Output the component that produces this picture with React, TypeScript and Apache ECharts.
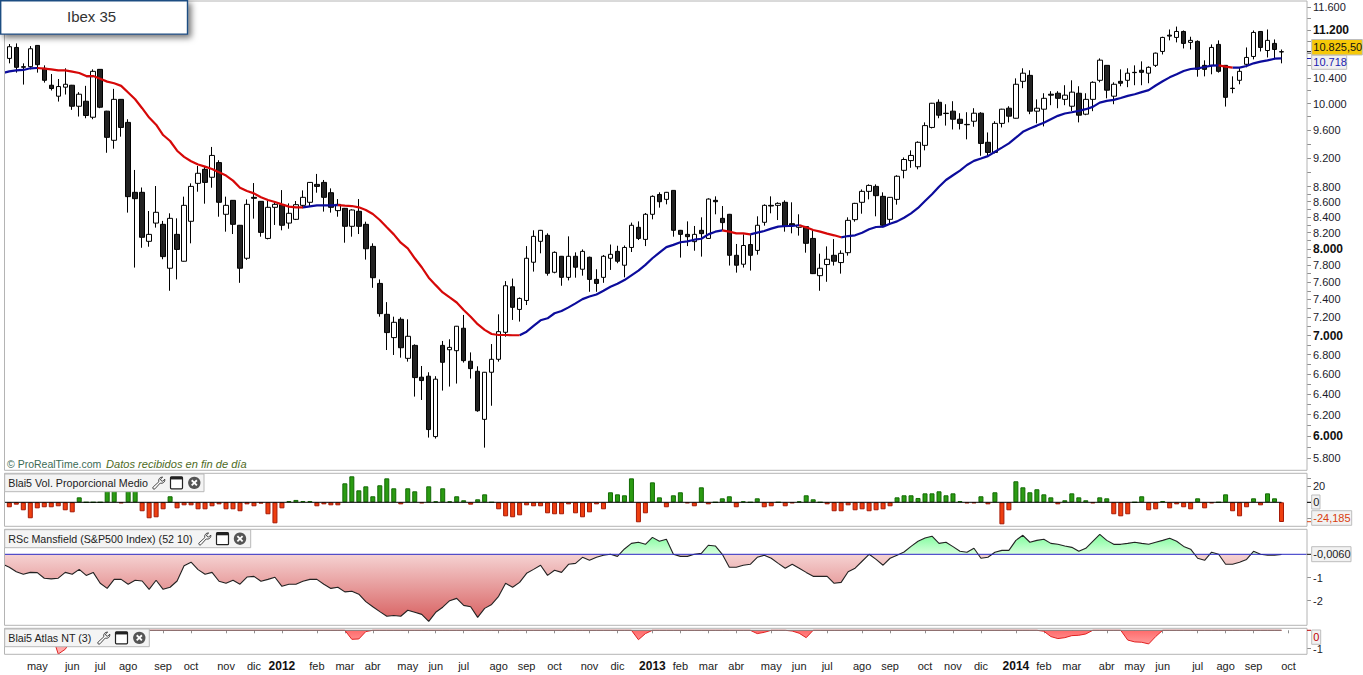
import React, { useEffect, useRef } from "react";
import * as echarts from "echarts";

const opens = [10719,10901,10573,10584,10935,10557,10286,10114,10255,10286,9959,10036,9792,10540,9884,9451,10065,9715,8725,8725,8092,8322,8306,7764,8179,7848,8345,8846,9039,8929,9133,8435,8618,8294,7884,8658,8605,8128,8526,8561,8322,8370,8552,8592,8832,8859,8720,8483,8513,8281,8474,8306,8029,7585,7233,6979,7178,6760,6896,6567,6577,5994,6896,6850,6840,7080,6730,6627,6155,6617,6750,7036,7546,7288,7389,7836,8092,8167,7716,7908,7656,7908,7752,7896,7632,7656,7884,7968,7800,8016,8268,8116,8435,8696,8631,8751,8230,8179,8088,8230,8128,8618,8383,8435,7920,7812,8052,7980,8332,8552,8552,8592,8314,8268,8277,8128,7676,7808,7920,7832,7952,8366,8592,8738,8805,8671,8370,8631,9025,9161,9075,9378,9640,10020,9853,9884,9762,9685,9732,9853,9422,9277,9700,9929,9777,10348,10443,9884,9914,10145,10160,10065,9959,10160,9838,10065,10364,10605,10114,10348,10364,10492,10525,10478,10605,10834,11109,11070,11172,10986,11003,10605,10605,10952,10605,10239,10364,10622,10751,11172,10850,10969,10830];
const closes = [10913,10573,10584,10879,10616,10364,10234,10265,10301,9959,10145,9818,10508,9944,9494,10065,9640,8667,8640,8142,8179,8461,7904,8383,7992,8552,8805,8984,8859,9234,8592,8552,8306,7764,8565,8645,8204,8526,8565,8294,8448,8561,8658,8859,8805,8658,8526,8565,8281,8491,8281,8000,7652,7241,7033,7145,6871,6993,6563,6533,6059,6547,6719,6875,7102,6736,6654,6237,6617,6750,7043,7558,7311,7412,7884,8154,8230,7704,7956,7656,7908,7776,7968,7632,7585,7908,7932,7848,8016,8294,8128,8435,8671,8600,8725,8230,8179,8150,8179,8188,8635,8600,8328,7920,7800,8040,7920,8294,8552,8543,8578,8277,8294,8294,8067,7700,7764,7872,7848,7944,8357,8578,8738,8818,8680,8294,8658,8943,9176,9234,9422,9667,10005,9823,9848,9762,9700,9680,9853,9406,9277,9700,9914,9808,10301,10478,9884,9929,10081,10130,10081,10130,10177,9823,10065,10332,10690,10208,10301,10317,10478,10487,10492,10573,10806,11070,11093,11172,10969,11020,10540,10540,10901,10508,10096,10234,10508,10735,11155,10901,11020,10867,10825.5];
const lows = [10638,10487,10296,10540,10487,10327,10203,10031,10140,9904,9803,9777,9762,9929,9272,9330,9504,8457,7772,8012,8025,8264,7872,7500,7632,7844,8067,8733,8574,8787,8404,8213,8183,7592,7864,8379,8150,8116,8298,8230,8250,8361,8513,8535,8720,8470,8457,8404,8075,8150,8183,7868,7534,7207,6847,6795,6767,6726,6374,6341,5985,5976,6433,6473,6503,6716,6553,6227,5893,6285,6726,6989,7171,7153,7337,7724,7944,7676,7704,7558,7620,7652,7676,7488,7488,7592,7744,7824,7656,7960,8108,8033,8370,8522,8565,8150,7892,8033,7976,7904,8124,8435,8234,7796,7712,7772,7736,7928,8289,8448,8361,8213,8192,8163,7952,7695,7500,7604,7796,7700,7916,8340,8443,8631,8409,8268,8322,8561,8915,9060,9039,9306,9625,9777,9667,9610,9610,9465,9650,9229,9238,9262,9640,9715,9772,10239,9838,9700,9655,9975,9929,9975,9884,9715,9823,9884,10332,10081,9990,10270,10255,10286,10286,10317,10578,10784,11020,10986,10884,10867,10422,10427,10460,10487,9954,10160,10301,10573,10703,10834,10735,10703,10638];
const highs = [10958,10969,10638,10924,10940,10605,10465,10385,10557,10291,10177,10276,10540,10545,9889,10229,10070,9762,9030,8790,8478,8810,8350,8448,8383,8667,8846,9085,9076,9355,9166,8667,8622,8298,8631,8850,8609,8609,8609,8755,8578,8609,8751,8864,8975,8892,8778,8635,8518,8500,8635,8340,8067,7632,7370,7207,7200,7178,6907,6681,6617,6577,6943,6961,7105,7226,6822,6678,6620,6910,7233,7612,7642,7423,8033,8230,8235,8192,7968,7912,8154,7956,7992,7904,7752,7924,8052,8037,8040,8328,8344,8452,8684,8725,8730,8755,8235,8344,8285,8396,8645,8671,8543,8440,8059,8179,8179,8409,8565,8671,8592,8618,8592,8435,8285,8230,7940,8029,8120,7980,8396,8585,8764,8832,8832,8725,8662,8957,9205,9306,9436,9715,10010,10065,9990,10036,9853,9868,9929,9868,9566,9732,9920,9959,10395,10557,10525,10065,10160,10192,10192,10286,10364,10270,10160,10348,10719,10610,10332,10540,10557,10605,10670,10589,10815,11082,11206,11256,11189,11082,11020,10687,10952,11020,10610,10427,10573,10901,11189,11178,11206,11036,10867];

// The first value belongs to the week before the first visible candle.
const movingAverage = [10480,10508,10524,10530,10557,10562,10551,10540,10524,10524,10503,10481,10432,10432,10390,10343,10317,10276,10172,10067,9929,9787,9680,9528,9441,9301,9214,9152,9106,9076,9044,8997,8952,8883,8787,8742,8711,8658,8622,8596,8565,8535,8526,8526,8539,8552,8552,8552,8556,8548,8543,8526,8491,8439,8361,8268,8179,8075,8004,7884,7776,7652,7565,7481,7423,7366,7281,7207,7124,7062,7018,7007,7007,7004,7004,7043,7105,7167,7189,7245,7270,7311,7356,7404,7434,7457,7500,7546,7581,7624,7680,7736,7804,7884,7952,8020,8048,8080,8092,8112,8124,8179,8213,8230,8213,8192,8192,8179,8200,8221,8251,8277,8285,8285,8294,8268,8234,8213,8188,8167,8142,8158,8167,8200,8243,8272,8277,8314,8344,8391,8448,8518,8609,8700,8800,8892,8957,9021,9099,9157,9190,9224,9287,9345,9406,9489,9575,9625,9667,9710,9762,9813,9848,9868,9889,9914,9949,10015,10041,10057,10086,10119,10145,10177,10208,10281,10348,10411,10460,10513,10546,10557,10578,10600,10605,10584,10568,10568,10595,10638,10665,10687,10714,10718];
// [first, last] positions in movingAverage where it is falling (drawn red); the rest is blue
const maFallingSpans = [[5,12],[13,43],[48,71],[72,74],[103,107],[114,120],[174,176]];

const volume = [-6.1,-2.9,-9.8,-19.6,-7.4,-6.1,-6.1,-4.9,-9.8,-12.3,6.1,0,0,0,22,24,-1.2,22,20,-11,-19.6,-18.4,-8.6,7.4,-7.4,-3.7,-3.7,-8.6,-8.6,-4.9,-2.5,-8.6,-8.6,-11,-2.5,-4.9,-1.6,-14.7,-25.8,-7.4,1.6,2.9,1.6,1.6,-4.9,-2.5,-3.7,-3.7,23.3,31.9,14.7,19.6,7.4,20.9,29.4,17.2,-2.5,17.2,13.5,-1.2,19.6,1.2,17.2,1.2,7.4,2.5,-2.9,3.7,9.8,0,-8.6,-17.2,-18.4,-16,-3.7,-4.9,-4.9,-13.5,-14.7,-14.7,-2.5,-13.5,-18.4,-12.3,-2.5,-8.6,12.3,9.8,8.6,29.4,-24.5,-13.5,24.5,6.1,-6.1,8.6,12.3,-1.2,-4.9,18.4,-2.5,0,4.9,7.4,-6.1,1.2,0,4.9,-6.1,-4.9,0,-4.9,-1.2,1.2,8.6,3.7,0,-2.5,-11,-11,-3.7,-9.8,-8.6,-11,-9.8,-8.6,-4.9,6.1,8.6,8.6,5.3,11,11,13.5,8.6,11,1.6,-1.2,-1.2,7.4,-2.5,12.3,-27,-9.8,25.8,18.4,12.3,16,9.8,6.1,-2.5,2.5,11,6.1,2.5,-1.2,6.1,4.9,-14.7,-17.2,-14.7,0,7.4,-9.8,-8.6,1.6,-7.4,-2.5,-6.1,-8.6,4.9,-7.4,-1.2,0,9.8,-11,-17.2,-6.1,4.9,-3.7,11,4.9,-24.185];

// The first value belongs to the week before the first visible candle.
const mansfield = [-0.42,-0.56,-0.75,-0.86,-0.78,-0.79,-1.03,-1.06,-1.03,-0.78,-0.86,-0.65,-0.91,-0.78,-1.25,-1.47,-1.08,-1.08,-1.29,-1.12,-1.15,-1.51,-1.12,-1.51,-1.42,-1.15,-0.49,-0.34,-0.66,-0.86,-0.78,-1.16,-1.25,-1.12,-1.29,-0.98,-0.95,-1.16,-1.08,-0.99,-1.38,-1.29,-1.29,-1.16,-1.08,-1.08,-1.29,-1.47,-1.42,-1.62,-1.59,-1.72,-2.04,-2.26,-2.47,-2.67,-2.64,-2.67,-2.41,-2.5,-2.59,-2.89,-2.5,-2.28,-2,-1.9,-2.2,-2.26,-2.72,-2.33,-2.16,-1.81,-1.25,-1.42,-1.21,-0.82,-0.65,-0.47,-0.91,-0.69,-0.78,-0.43,-0.39,-0.13,-0.26,-0.13,-0.04,0,-0.09,0.23,0.47,0.52,0.43,0.73,0.56,0.65,0,-0.09,-0.09,0,0.04,0.39,0.36,0,-0.56,-0.56,-0.47,-0.43,-0.13,-0.04,-0.17,-0.39,-0.6,-0.43,-0.6,-0.78,-0.95,-0.95,-0.95,-1.25,-1.21,-0.75,-0.6,-0.3,0,-0.22,-0.47,-0.17,-0.04,0.1,0.34,0.56,0.7,0.78,0.47,0.52,0.33,0.13,0.09,0.26,-0.17,-0.13,0.09,0.17,0.17,0.6,0.82,0.52,0.6,0.65,0.47,0.43,0.36,0.3,0.13,0.26,0.56,0.86,0.6,0.43,0.43,0.47,0.52,0.47,0.43,0.52,0.6,0.69,0.56,0.34,0.22,-0.17,-0.26,0.09,0,-0.43,-0.43,-0.34,-0.22,0.13,0,-0.04,-0.04,-0.006];

// Atlas NT: only the weeks that leave zero (candle numbers)
const atlasWeeks = [6,7,8,9,49,50,51,90,91,107,108,112,113,114,148,149,150,151,152,153,154,160,161,162,163,164];
const atlasValues = [-0.13,-1.29,-1.03,-0.43,-0.49,-0.47,-0.07,-0.51,-0.18,-0.18,-0.11,-0.04,-0.16,-0.4,-0.05,-0.34,-0.45,-0.4,-0.29,-0.27,-0.2,-0.53,-0.63,-0.65,-0.74,-0.34];

const monthWeeks = [4,9,13,17,22,26,31,35,39,44,48,52,57,61,65,70,74,78,83,87,92,96,100,104,109,113,117,122,126,131,135,139,144,148,152,157,161,165,170,174,178,183];
const monthNames = ["may","jun","jul","ago","sep","oct","nov","dic","2012","feb","mar","abr","may","jun","jul","ago","sep","oct","nov","dic","2013","feb","mar","abr","may","jun","jul","ago","sep","oct","nov","dic","2014","feb","mar","abr","may","jun","jul","ago","sep","oct"];

const priceLabels = [11600,11200,10400,10000,9600,9200,8800,8600,8400,8200,8000,7800,7600,7400,7200,7000,6800,6600,6400,6200,6000,5800];
const boldPrices = [11200,8000,7000,6000];
const priceTicks = [11600,11400,11200,11000,10800,10600,10400,10200,10000,9800,9600,9400,9200,9000,8800,8700,8600,8500,8400,8300,8200,8100,8000,7900,7800,7700,7600,7500,7400,7300,7200,7100,7000,6900,6800,6700,6600,6500,6400,6300,6200,6100,6000,5900,5800];

const WEEKS = 187; // one hidden leading week + 183 candles + 3 blank weeks
const LEFT = 2.34;
const WIDTH = 1300.14;
const RIGHT_X = 1307;
const FONT = '"Liberation Sans", Arial, sans-serif';

const wrenchPath = "M13 1 a4.2 4.2 0 0 0 -4.6 5.6 L1.4 13 a1.5 1.5 0 0 0 2.2 2.2 L10 8.2 a4.2 4.2 0 0 0 5.6 -4.8 L13 6 L11 5.2 L10.3 3.4 Z";
echarts.graphic.registerShape("wrench", echarts.graphic.extendPath(wrenchPath, {}));

const categories = Array.from({ length: WEEKS }, (_, i) => {
  const k = monthWeeks.indexOf(i - 1);
  return k >= 0 ? monthNames[k] : "";
});

function legendBox(x: number, y: number, w: number, h: number, label: string, wrenchX: number, windowX: number, closeX: number) {
  const cy = y + h / 2;
  return [
    { type: "rect", z: 60, shape: { x, y, width: w, height: h }, style: { fill: "#f4f4f4", stroke: "#b8b8b8", lineWidth: 1 } },
    { type: "text", z: 61, style: { x: x + 3.6, y: cy, text: label, font: `10.7px ${FONT}`, fill: "#222", textVerticalAlign: "middle" } },
    { type: "wrench", z: 61, x: wrenchX, y: cy - 6.5, scaleX: 0.82, scaleY: 0.82, style: { fill: "#fff", stroke: "#333", lineWidth: 1.1 } },
    { type: "rect", z: 61, shape: { x: windowX, y: cy - 6, width: 12, height: 12, r: 1 }, style: { fill: "#fff", stroke: "#222", lineWidth: 1.2 } },
    { type: "rect", z: 61, shape: { x: windowX, y: cy - 6, width: 12, height: 2.6 }, style: { fill: "#222" } },
    { type: "circle", z: 61, shape: { cx: closeX, cy, r: 6.2 }, style: { fill: "#555" } },
    { type: "line", z: 62, shape: { x1: closeX - 2.6, y1: cy - 2.6, x2: closeX + 2.6, y2: cy + 2.6 }, style: { stroke: "#fff", lineWidth: 1.8 } },
    { type: "line", z: 62, shape: { x1: closeX + 2.6, y1: cy - 2.6, x2: closeX - 2.6, y2: cy + 2.6 }, style: { stroke: "#fff", lineWidth: 1.8 } },
  ];
}

function valueBox(x: number, y: number, w: number, h: number, text: string, color: string, fill: string) {
  return [
    { type: "rect", z: 60, shape: { x, y, width: w, height: h }, style: { fill, stroke: "#bdbdbd", lineWidth: 1 } },
    { type: "text", z: 61, style: { x: x + 1.6, y: y + h / 2, text, font: `11px ${FONT}`, fill: color, textVerticalAlign: "middle" } },
  ];
}

function frame(y1: number, y2: number) {
  return { type: "rect", z: 40, shape: { x: 4.5, y: y1, width: RIGHT_X - 4.5, height: y2 - y1 }, style: { fill: "none", stroke: "#b4b4b4", lineWidth: 1 } };
}

function dash(y: number, color: string) {
  return { type: "line", z: 41, shape: { x1: RIGHT_X, y1: y, x2: RIGHT_X + 4, y2: y }, style: { stroke: color, lineWidth: 1 } };
}

function baseline(xi: number, yi: number, color: string, lastWeek = 183, pastEnd = 0) {
  return {
    type: "custom",
    xAxisIndex: xi,
    yAxisIndex: yi,
    z: 5,
    silent: true,
    data: [[1, lastWeek, 0]],
    encode: { x: [0, 1], y: 2 },
    renderItem: (_: unknown, api: any) => {
      const a = api.coord([api.value(0), 0]);
      const b = api.coord([api.value(1), 0]);
      return { type: "line", shape: { x1: a[0] - 4.5, y1: a[1], x2: b[0] + pastEnd, y2: b[1] }, style: { stroke: color, lineWidth: 1 } };
    },
  };
}

export default function App() {
  const ref = useRef<HTMLDivElement>(null);
  useEffect(() => {
    document.body.style.margin = "0";
    const chart = echarts.init(ref.current!, null, { renderer: "svg" });

    const axisX = (i: number, extra: object = {}) => ({
      type: "category",
      gridIndex: i,
      data: categories,
      boundaryGap: false,
      axisLine: { show: false },
      axisTick: { show: false },
      axisLabel: { show: false },
      splitLine: { show: false },
      ...extra,
    });
    const axisY = (i: number, min: number, max: number, labels: number[], ticks: number[], formatter: any, rich: object = {}) => ({
      type: "value",
      gridIndex: i,
      position: "right",
      offset: 4.52,
      min,
      max,
      scale: true,
      axisLine: { show: false },
      splitLine: { show: false },
      axisTick: { show: true, length: 4, lineStyle: { color: "#8f8f8f" }, customValues: ticks },
      axisLabel: { show: true, margin: 6, color: "#1a1a2a", fontFamily: FONT, fontSize: 11, customValues: labels, formatter, rich, hideOverlap: false },
    });

    const ln = Math.log;
    const PXLN = 650.6;
    const candle = [["-", "-", "-", "-"], ...opens.map((o, i) => [ln(o), ln(closes[i]), ln(lows[i]), ln(highs[i])])];
    const maRed = movingAverage.map((v, i) => (maFallingSpans.some(([a, b]) => i >= a && i <= b) ? ln(v) : "-"));
    const maBlue = movingAverage.map((v, i) => (maFallingSpans.some(([a, b]) => i > a && i < b) ? "-" : ln(v)));

    const volData = [
      { value: "-" },
      ...volume.map((v) => ({
        value: v,
        itemStyle: v >= 0 ? { color: "#2b9b12", borderColor: "#136b06" } : { color: "#ee3f10", borderColor: "#a61a08" },
      })),
    ];

    const atlas = [
      "-",
      ...opens.map((_, i) => {
        const k = atlasWeeks.indexOf(i);
        return k >= 0 ? atlasValues[k] : 0;
      }),
    ];

    const tickIndexes = (i: number) => monthWeeks.includes(i - 1);

    const rsGradient = new echarts.graphic.LinearGradient(0, 530, 0, 625, [
      { offset: 0, color: "#68fb8c" },
      { offset: 0.255, color: "#d8ffdd" },
      { offset: 0.256, color: "#f5d2d2" },
      { offset: 1, color: "#d65a5a" },
    ], true);

    const formatPrice = (v: number) => {
      const p = Math.round(Math.exp(v) / 100) * 100;
      const t = `${Math.floor(p / 1000)}.${String(p % 1000).padStart(3, "0")}`;
      return boldPrices.includes(p) ? `{b|${t}}` : t;
    };

    chart.setOption({
      animation: false,
      backgroundColor: "#fff",
      grid: [
        { left: LEFT, width: WIDTH, top: 1.5, height: 468.8 },
        { left: LEFT, width: WIDTH, top: 473.5, height: 52.8 },
        { left: LEFT, width: WIDTH, top: 529.5, height: 95.8 },
        { left: LEFT, width: WIDTH, top: 628.5, height: 25.8 },
      ],
      xAxis: [
        axisX(0),
        axisX(1),
        axisX(2),
        axisX(3, {
          position: "bottom",
          axisTick: { show: true, length: 3, alignWithLabel: true, interval: (i: number) => tickIndexes(i), lineStyle: { color: "#8f8f8f" } },
          axisLabel: {
            show: true,
            interval: (i: number) => tickIndexes(i),
            margin: 6,
            color: "#222",
            fontFamily: FONT,
            fontSize: 11,
            hideOverlap: false,
            formatter: (s: string) => (/^\d+$/.test(s) ? `{y|${s}}` : s),
            rich: { y: { fontWeight: "bold", fontSize: 12, fontFamily: FONT, color: "#111" } },
          },
        }),
      ],
      yAxis: [
        axisY(0, ln(5800) - 12.3 / PXLN, ln(11600) + 5.5 / PXLN, priceLabels.map(ln), priceTicks.map(ln), formatPrice,
          { b: { fontWeight: "bold", fontSize: 12, fontFamily: FONT, color: "#111" } }),
        axisY(1, -29.45, 35.34, [20], [29, 20, 0, -20], (v: number) => String(Math.round(v))),
        axisY(2, -3.06, 1.069, [-1, -2], [0, -1, -2], (v: number) => String(Math.round(v))),
        axisY(3, -1.304, 0.098, [-1], [-1], (v: number) => String(Math.round(v))),
      ],
      series: [
        {
          type: "candlestick",
          xAxisIndex: 0,
          yAxisIndex: 0,
          barWidth: 5,
          data: candle,
          z: 3,
          itemStyle: { color: "#ffffff", color0: "#222222", borderColor: "#000000", borderColor0: "#000000", borderWidth: 1 },
        },
        {
          type: "line", xAxisIndex: 0, yAxisIndex: 0, data: maBlue, showSymbol: false, z: 4, connectNulls: false,
          lineStyle: { color: "#0c0c9c", width: 2.2 },
        },
        {
          type: "line", xAxisIndex: 0, yAxisIndex: 0, data: maRed, showSymbol: false, z: 4, connectNulls: false,
          lineStyle: { color: "#d60808", width: 2.2 },
        },
        { type: "bar", xAxisIndex: 1, yAxisIndex: 1, barWidth: 5, data: volData, z: 3, itemStyle: { borderWidth: 1 } },
        baseline(1, 1, "#000000"),
        {
          type: "line", xAxisIndex: 2, yAxisIndex: 2, data: mansfield, showSymbol: false, z: 3,
          lineStyle: { color: "#222", width: 1.1 },
          areaStyle: { origin: 0, color: rsGradient, opacity: 1 },
        },
        baseline(2, 2, "#2a2ac4", 186, 4.5),
        {
          type: "line", xAxisIndex: 3, yAxisIndex: 3, data: atlas, showSymbol: false, z: 3,
          lineStyle: { color: "#e02020", width: 1 },
          areaStyle: {
            origin: 0, opacity: 1,
            color: new echarts.graphic.LinearGradient(0, 630, 0, 650, [
              { offset: 0, color: "#ff6a6a" },
              { offset: 1, color: "#ffb0b0" },
            ], true),
          },
        },
        baseline(3, 3, "#7a7a7a"),
      ],
      graphic: [
        { type: "rect", z: 30, shape: { x: 0, y: 0, width: 4.5, height: 675 }, style: { fill: "#fff" } },
        frame(1, 470.3),
        frame(473.3, 526.3),
        frame(529.3, 625.3),
        frame(628.3, 654.3),
        { type: "rect", z: 70, shape: { x: 0.7, y: 0.7, width: 186.8, height: 33.4 },
          style: { fill: "#fff", stroke: "#1f4e82", lineWidth: 1.4, shadowColor: "rgba(0,0,0,0.55)", shadowBlur: 6, shadowOffsetX: 3, shadowOffsetY: 3 } },
        { type: "text", z: 71, style: { x: 67, y: 16.5, text: "Ibex 35", font: `15px ${FONT}`, fill: "#333", textVerticalAlign: "middle" } },
        { type: "text", z: 50, style: { x: 7, y: 464, text: "© ProRealTime.com", font: `10.5px ${FONT}`, fill: "#3b6b55", textVerticalAlign: "middle" } },
        { type: "text", z: 50, style: { x: 106, y: 464, text: "Datos recibidos en fin de día", font: `italic 11.1px ${FONT}`, fill: "#4e6b1e", textVerticalAlign: "middle" } },
        ...legendBox(4.7, 474, 199.3, 17.7, "Blai5 Vol. Proporcional Medio", 152, 170.5, 194.3),
        ...legendBox(4.7, 529.7, 246, 18, "RSc Mansfield (S&P500 Index) (52 10)", 198, 216.5, 240),
        ...legendBox(4.7, 629, 144.6, 17.7, "Blai5 Atlas NT (3)", 97, 115.5, 139.3),
        dash(51.7, "#000"),
        dash(58.5, "#1a1ab0"),
        ...valueBox(1311.7, 39.5, 50.6, 15.5, "10.825,50", "#111", "#f6c808"),
        ...valueBox(1311.7, 55.3, 35, 14, "10.718", "#1a1ab0", "#f0f0f0"),
        dash(502.3, "#000"),
        ...valueBox(1311.7, 495, 8.3, 14, "0", "#222", "#f2f2f2"),
        dash(521.7, "#d9400f"),
        ...valueBox(1311.7, 510.7, 40, 14.6, "-24,185", "#d9400f", "#f2f2f2"),
        dash(554.3, "#222"),
        ...valueBox(1311.7, 546.7, 39.3, 15, "-0,0060", "#222", "#f2f2f2"),
        dash(630.3, "#c00000"),
        ...valueBox(1311.7, 630, 9, 14.3, "0", "#c00000", "#f2f2f2"),
      ],
    });
    return () => chart.dispose();
  }, []);
  return <div ref={ref} style={{ width: 1363, height: 675, position: "absolute", left: 0, top: 0 }} />;
}
